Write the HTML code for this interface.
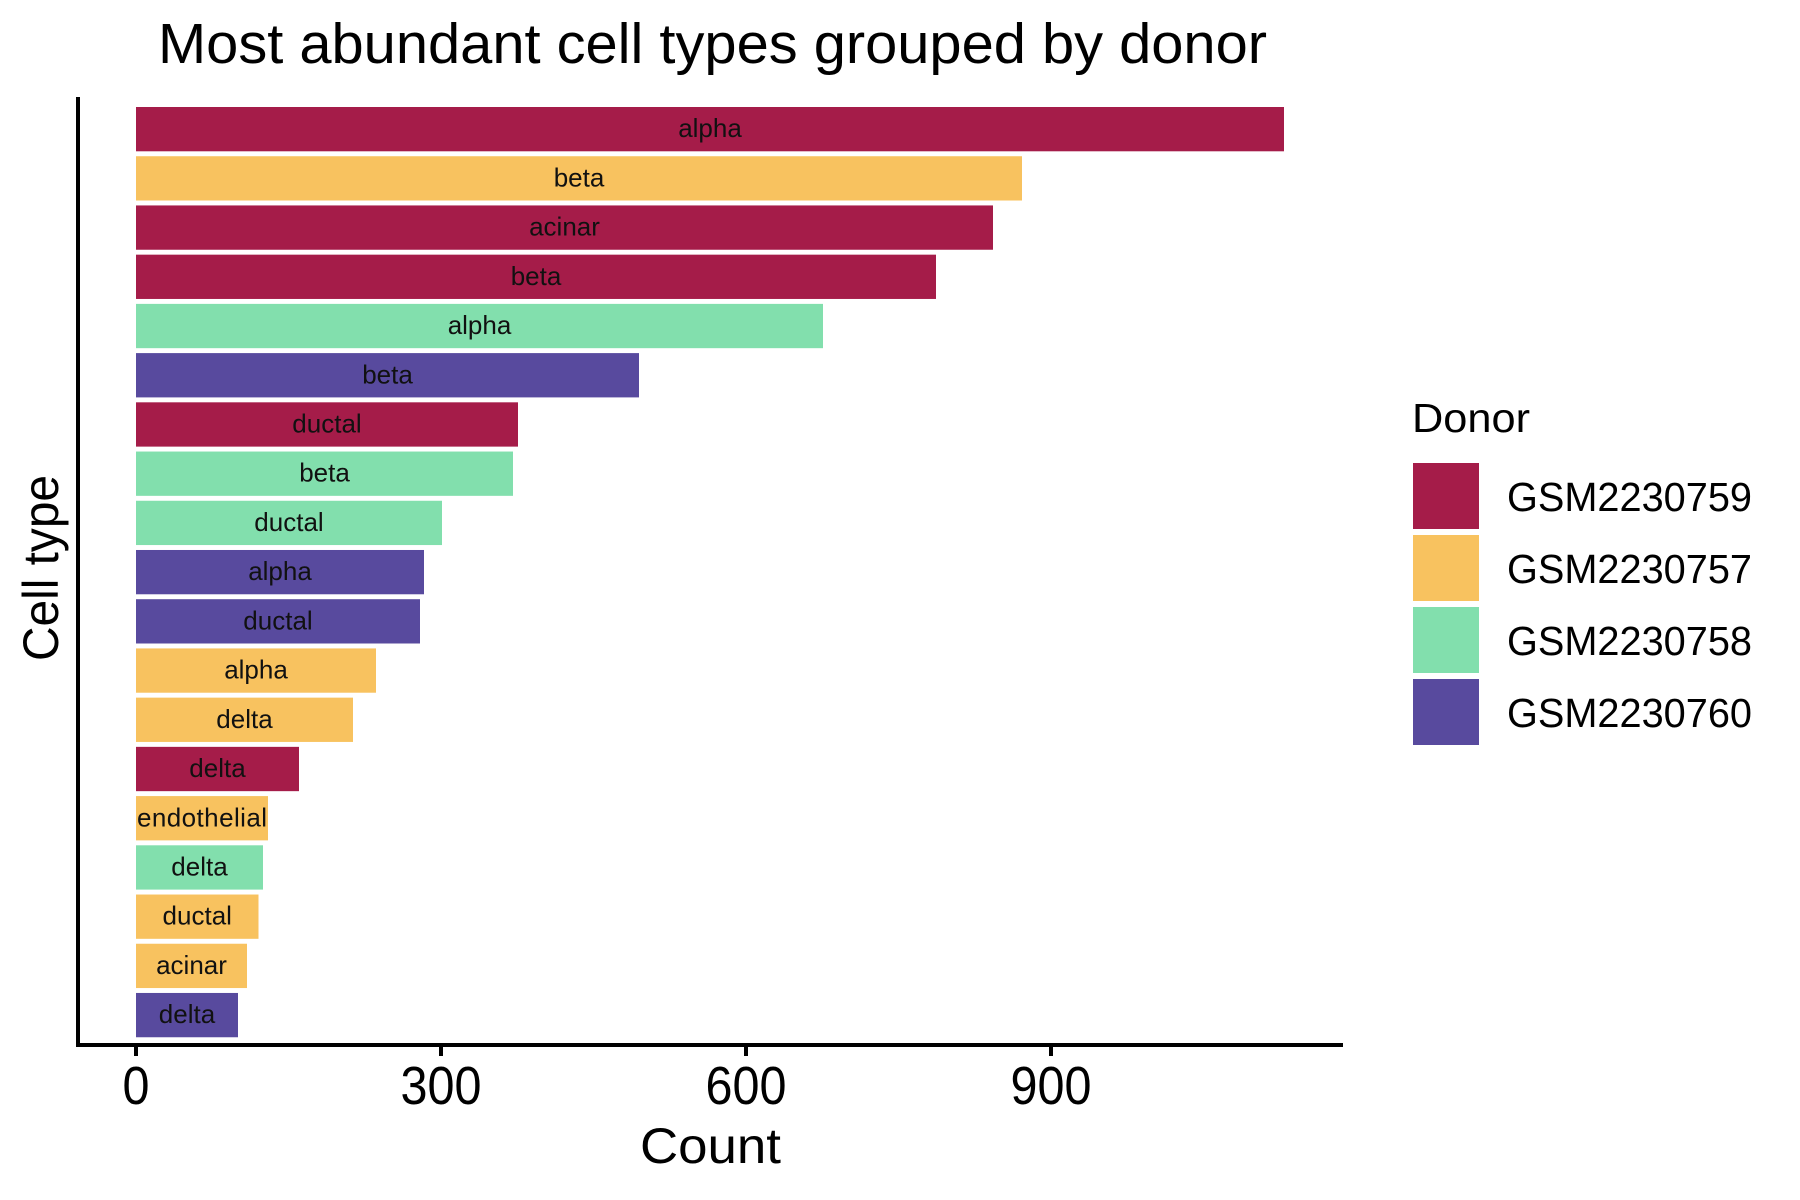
<!DOCTYPE html>
<html>
<head>
<meta charset="utf-8">
<style>
  html, body { margin: 0; padding: 0; background: #ffffff; }
  svg { display: block; }
  text { font-family: "Liberation Sans", "DejaVu Sans", sans-serif; fill: #000; }
  .bl { font-size: 26px; fill: #111; }
</style>
</head>
<body>
<svg width="1800" height="1200" viewBox="0 0 1800 1200" xmlns="http://www.w3.org/2000/svg">
  <rect x="0" y="0" width="1800" height="1200" fill="#ffffff"/>

  <!-- Title -->
  <text x="158" y="63" font-size="57" textLength="1109" lengthAdjust="spacingAndGlyphs">Most abundant cell types grouped by donor</text>

  <!-- Bars -->
  <g>
    <rect x="136" y="107.00" width="1148" height="44.3" fill="#A51C49"/>
    <rect x="136" y="156.22" width="886" height="44.3" fill="#F8C25F"/>
    <rect x="136" y="205.44" width="857" height="44.3" fill="#A51C49"/>
    <rect x="136" y="254.66" width="800" height="44.3" fill="#A51C49"/>
    <rect x="136" y="303.88" width="687" height="44.3" fill="#82DFAD"/>
    <rect x="136" y="353.10" width="503" height="44.3" fill="#584A9E"/>
    <rect x="136" y="402.32" width="382" height="44.3" fill="#A51C49"/>
    <rect x="136" y="451.54" width="377" height="44.3" fill="#82DFAD"/>
    <rect x="136" y="500.76" width="306" height="44.3" fill="#82DFAD"/>
    <rect x="136" y="549.98" width="288" height="44.3" fill="#584A9E"/>
    <rect x="136" y="599.20" width="284" height="44.3" fill="#584A9E"/>
    <rect x="136" y="648.42" width="240" height="44.3" fill="#F8C25F"/>
    <rect x="136" y="697.64" width="217" height="44.3" fill="#F8C25F"/>
    <rect x="136" y="746.86" width="163" height="44.3" fill="#A51C49"/>
    <rect x="136" y="796.08" width="132" height="44.3" fill="#F8C25F"/>
    <rect x="136" y="845.30" width="127" height="44.3" fill="#82DFAD"/>
    <rect x="136" y="894.52" width="122.5" height="44.3" fill="#F8C25F"/>
    <rect x="136" y="943.74" width="111" height="44.3" fill="#F8C25F"/>
    <rect x="136" y="992.96" width="102" height="44.3" fill="#584A9E"/>
  </g>

  <!-- Bar labels -->
  <g text-anchor="middle">
    <text class="bl" x="710" y="137.2">alpha</text>
    <text class="bl" x="579" y="186.4">beta</text>
    <text class="bl" x="564.5" y="235.6">acinar</text>
    <text class="bl" x="536" y="284.9">beta</text>
    <text class="bl" x="479.5" y="334.1">alpha</text>
    <text class="bl" x="387.5" y="383.3">beta</text>
    <text class="bl" x="327" y="432.5">ductal</text>
    <text class="bl" x="324.5" y="481.7">beta</text>
    <text class="bl" x="289" y="531.0">ductal</text>
    <text class="bl" x="280" y="580.2">alpha</text>
    <text class="bl" x="278" y="629.4">ductal</text>
    <text class="bl" x="256" y="678.6">alpha</text>
    <text class="bl" x="244.5" y="727.8">delta</text>
    <text class="bl" x="217.5" y="777.1">delta</text>
    <text class="bl" x="202" y="826.3" textLength="130" lengthAdjust="spacing">endothelial</text>
    <text class="bl" x="199.5" y="875.5">delta</text>
    <text class="bl" x="197.25" y="924.7">ductal</text>
    <text class="bl" x="191.5" y="973.9">acinar</text>
    <text class="bl" x="187" y="1023.2">delta</text>
  </g>

  <!-- Axes -->
  <rect x="76" y="97" width="4" height="950" fill="#000"/>
  <rect x="76" y="1043" width="1267" height="4" fill="#000"/>
  <!-- Ticks -->
  <rect x="134" y="1045" width="4" height="11" fill="#000"/>
  <rect x="439" y="1045" width="4" height="11" fill="#000"/>
  <rect x="744" y="1045" width="4" height="11" fill="#000"/>
  <rect x="1049" y="1045" width="4" height="11" fill="#000"/>

  <!-- Tick labels -->
  <g text-anchor="middle" font-size="54">
    <text x="136" y="1104" textLength="27" lengthAdjust="spacingAndGlyphs">0</text>
    <text x="441" y="1104" textLength="81" lengthAdjust="spacingAndGlyphs">300</text>
    <text x="746" y="1104" textLength="81" lengthAdjust="spacingAndGlyphs">600</text>
    <text x="1051" y="1104" textLength="81" lengthAdjust="spacingAndGlyphs">900</text>
  </g>

  <!-- Axis titles -->
  <text x="710.5" y="1163" font-size="50" text-anchor="middle" textLength="141" lengthAdjust="spacingAndGlyphs">Count</text>
  <text transform="translate(58,568) rotate(-90)" x="0" y="0" font-size="50" text-anchor="middle" textLength="186" lengthAdjust="spacingAndGlyphs">Cell type</text>

  <!-- Legend -->
  <text x="1412" y="432" font-size="41" textLength="118" lengthAdjust="spacingAndGlyphs">Donor</text>
  <rect x="1413" y="463" width="66" height="66" fill="#A51C49"/>
  <rect x="1413" y="535" width="66" height="66" fill="#F8C25F"/>
  <rect x="1413" y="607" width="66" height="66" fill="#82DFAD"/>
  <rect x="1413" y="679" width="66" height="66" fill="#584A9E"/>
  <g font-size="40.5">
    <text x="1507" y="511" textLength="245" lengthAdjust="spacingAndGlyphs">GSM2230759</text>
    <text x="1507" y="583" textLength="245" lengthAdjust="spacingAndGlyphs">GSM2230757</text>
    <text x="1507" y="655" textLength="245" lengthAdjust="spacingAndGlyphs">GSM2230758</text>
    <text x="1507" y="727" textLength="245" lengthAdjust="spacingAndGlyphs">GSM2230760</text>
  </g>
</svg>
</body>
</html>
